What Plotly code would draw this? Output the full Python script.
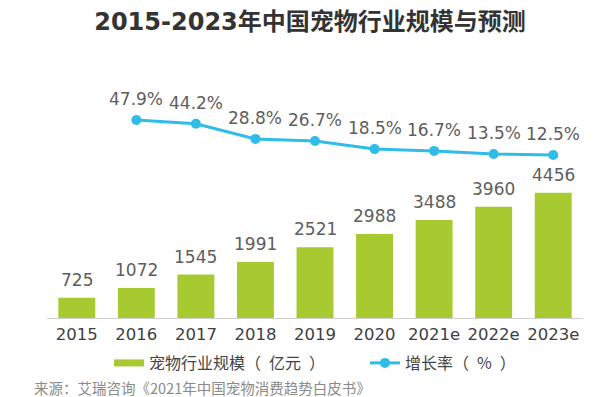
import plotly.graph_objects as go

years = ["2015", "2016", "2017", "2018", "2019", "2020", "2021e", "2022e", "2023e"]
scale = [725, 1072, 1545, 1991, 2521, 2988, 3488, 3960, 4456]
growth = [47.9, 44.2, 28.8, 26.7, 18.5, 16.7, 13.5, 12.5]
growth_labels = ["47.9%", "44.2%", "28.8%", "26.7%", "18.5%", "16.7%", "13.5%", "12.5%"]

pos = list(range(len(years)))          # category slots
growth_pos = pos[1:]                   # growth starts in 2016

CJK = "Noto Sans CJK SC, sans-serif"
NUM = "DejaVu Sans, Noto Sans CJK SC, sans-serif"
GREEN = "#a6ca30"
CYAN = "#2fbde8"
LABEL = "#5e5e5e"

# The page body has an 8px margin, so the figure is 8px smaller than the window.
W, H = 592, 389
L, R, T, B = 39, 17, 52, 79
PH = H - T - B  # plot height in px

fig = go.Figure()
fig.add_trace(go.Bar(
    x=pos, y=scale, name="宠物行业规模（亿元）", showlegend=False,
    marker=dict(color=GREEN, line=dict(width=0)), width=0.62,
))
# legend-only swatch (wide bar symbol as in the reference)
fig.add_trace(go.Scatter(
    x=[None], y=[None], mode="lines", name="宠物行业规模（\u2002亿元\u2002）",
    line=dict(color=GREEN, width=7),
))
fig.add_trace(go.Scatter(
    x=growth_pos, y=growth, name="增长率（\u2002%\u2002）", yaxis="y2",
    mode="lines+markers",
    line=dict(color=CYAN, width=3),
    marker=dict(color=CYAN, size=10),
    cliponaxis=False,
))

annotations = [
    dict(x=p, y=v, xref="x", yref="y", text=str(v), showarrow=False,
         yanchor="bottom", yshift=6, font=dict(size=17, color=LABEL, family=NUM))
    for p, v in zip(pos, scale)
]
annotations += [
    dict(x=p, y=g, xref="x", yref="y2", text=t, showarrow=False,
         yanchor="bottom", yshift=9, font=dict(size=17, color=LABEL, family=NUM))
    for p, g, t in zip(growth_pos, growth, growth_labels)
]
annotations.append(dict(
    text="来源：艾瑞咨询《2021年中国宠物消费趋势白皮书》", xref="paper", yref="paper",
    x=(24 - L) / (W - L - R), xanchor="left", y=-(379 - (H - B)) / PH, yanchor="middle",
    showarrow=False, font=dict(size=14.5, color="#8a8a8a", family=CJK)))

fig.update_layout(
    width=W, height=H,
    margin=dict(l=L, r=R, t=T, b=B, autoexpand=False),
    paper_bgcolor="white", plot_bgcolor="white",
    font=dict(family=CJK, color="#444444"),
    showlegend=True,
    legend=dict(orientation="h", x=(101 - L) / (W - L - R), xanchor="left",
                y=-(355 - (H - B)) / PH, yanchor="middle",
                font=dict(size=16, color="#444444", family=CJK),
                itemwidth=30, entrywidth=211, traceorder="normal"),
    title=dict(text="<b>2015-2023年中国宠物行业规模与预测</b>", x=302 / W, xanchor="center",
               y=1 - 14 / H, yanchor="middle",
               font=dict(size=24, color="#333333", family=NUM)),
    xaxis=dict(range=[-0.5, len(years) - 0.5], tickvals=pos, ticktext=years,
               showgrid=False, showline=True, linecolor="#cfcfcf", linewidth=1,
               zeroline=False, ticks="",
               tickfont=dict(size=16.5, color="#404040", family=NUM), ticklabelstandoff=1),
    yaxis=dict(range=[0, 9181], visible=False, showgrid=False),
    yaxis2=dict(range=[-152.3, 108.6], overlaying="y", visible=False, showgrid=False),
    annotations=annotations,
)

fig.write_html("out.html")
